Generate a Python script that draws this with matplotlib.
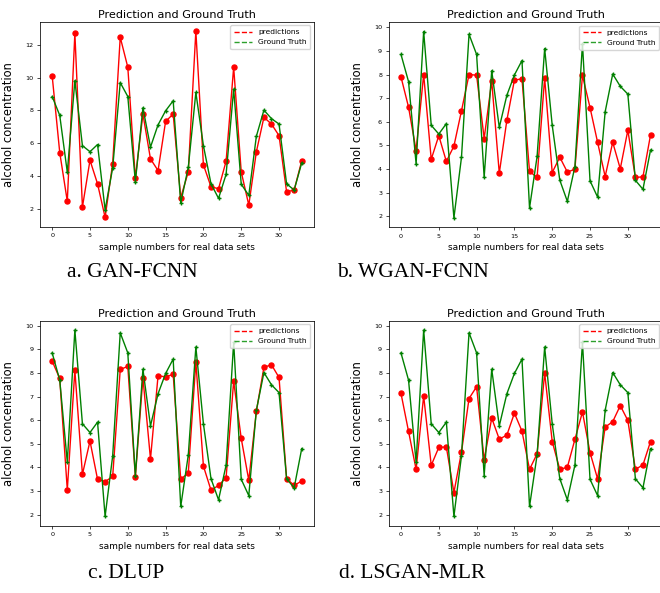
import matplotlib
matplotlib.use('agg')
import matplotlib.pyplot as plt
from matplotlib.lines import Line2D

samples = list(range(34))

ground_truth = [8.85, 7.7, 4.22, 9.82, 5.85, 5.48, 5.92, 1.93, 4.49, 9.7,
                8.85, 3.65, 8.16, 5.76, 7.12, 7.98, 8.59, 2.35, 4.53, 9.1,
                5.85, 3.53, 2.63, 4.1, 9.3, 3.5, 2.81, 6.42, 8.02, 7.5,
                7.17, 3.52, 3.14, 4.8]

pred_gan_fcnn = [10.11, 5.43, 2.45, 12.71, 2.10, 4.96, 3.52, 1.47, 4.76, 12.47,
                 10.64, 3.87, 7.78, 5.04, 4.33, 7.33, 7.78, 2.68, 4.25, 12.85,
                 4.68, 3.34, 3.22, 4.9, 10.64, 4.25, 2.22, 5.47, 7.58, 7.17,
                 6.46, 3.03, 3.14, 4.92]

pred_wgan_fcnn = [7.90, 6.62, 4.78, 8.0, 4.41, 5.41, 4.32, 4.97, 6.46, 8.0,
                  7.97, 5.29, 7.72, 3.82, 6.06, 7.76, 7.82, 3.90, 3.64, 7.86,
                  3.85, 4.50, 3.87, 3.99, 7.96, 6.60, 5.13, 3.68, 5.13, 4.01,
                  5.64, 3.64, 3.67, 5.44]

pred_dlup = [8.50, 7.77, 3.05, 8.12, 3.71, 5.12, 3.50, 3.40, 3.62, 8.15,
             8.28, 3.60, 7.80, 4.36, 7.88, 7.84, 7.94, 3.50, 3.77, 8.47,
             4.06, 3.04, 3.24, 3.57, 7.65, 5.23, 3.46, 6.38, 8.24, 8.35,
             7.81, 3.53, 3.24, 3.43]

pred_lsgan_mlr = [7.14, 5.53, 3.92, 7.03, 4.09, 4.85, 4.87, 2.94, 4.65, 6.92,
                  7.42, 4.33, 6.09, 5.20, 5.37, 6.30, 5.54, 3.92, 4.58, 8.0,
                  5.1, 3.92, 4.01, 5.19, 6.35, 4.63, 3.52, 5.71, 5.94, 6.62,
                  5.99, 3.92, 4.11, 5.1]

captions = ['a. GAN-FCNN', 'b. WGAN-FCNN', 'c. DLUP', 'd. LSGAN-MLR']
predictions = [pred_gan_fcnn, pred_wgan_fcnn, pred_dlup, pred_lsgan_mlr]

W, H = 660, 593
fig = plt.figure(figsize=(W / 100, H / 100), dpi=100)

# axes boxes in pixels: left, top (right column runs a bit past the image edge)
boxes = [(39.7, 21.7), (388.5, 22.2), (39.7, 320.7), (388.5, 320.7)]
ax_w, ax_h = 274.5, 205.0
caption_pos = [(132, 273), (413, 273), (126, 573), (412, 573)]


def draw_panel(ax, pred):
    ax.plot(samples, pred, color='red', marker='o', markersize=3.6, linewidth=1.0)
    ax.plot(samples, ground_truth, color='green', marker='+', markersize=3.5,
            linewidth=1.0)
    ax.set_title('Prediction and Ground Truth', fontsize=8.1, pad=3)
    ax.set_xlabel('sample numbers for real data sets', fontsize=6.5, labelpad=3.5)
    ax.set_ylabel('alcohol concentration', fontsize=8.3)
    ax.yaxis.set_label_coords(-0.09, 0.5)
    ax.tick_params(labelsize=4.6, length=2.4, width=0.5, pad=2.2)
    for s in ax.spines.values():
        s.set_linewidth(0.55)
    handles = [Line2D([], [], color='red', linestyle='--', linewidth=1.0),
               Line2D([], [], color='#2ca02c', linestyle='--', linewidth=1.0)]
    ax.legend(handles, ['predictions', 'Ground Truth'], loc='upper right',
              fontsize=5.4, handlelength=2.4, borderpad=0.5, labelspacing=0.5,
              framealpha=0.8)


for (left, top), pred, cap, (cx, cy) in zip(boxes, predictions, captions, caption_pos):
    ax = fig.add_axes([left / W, 1 - (top + ax_h) / H, ax_w / W, ax_h / H])
    draw_panel(ax, pred)
    fig.text(cx / W, 1 - cy / H, cap, family='Liberation Serif', fontsize=15.5,
             ha='center', va='center')

fig.savefig('out.png', dpi=100)
